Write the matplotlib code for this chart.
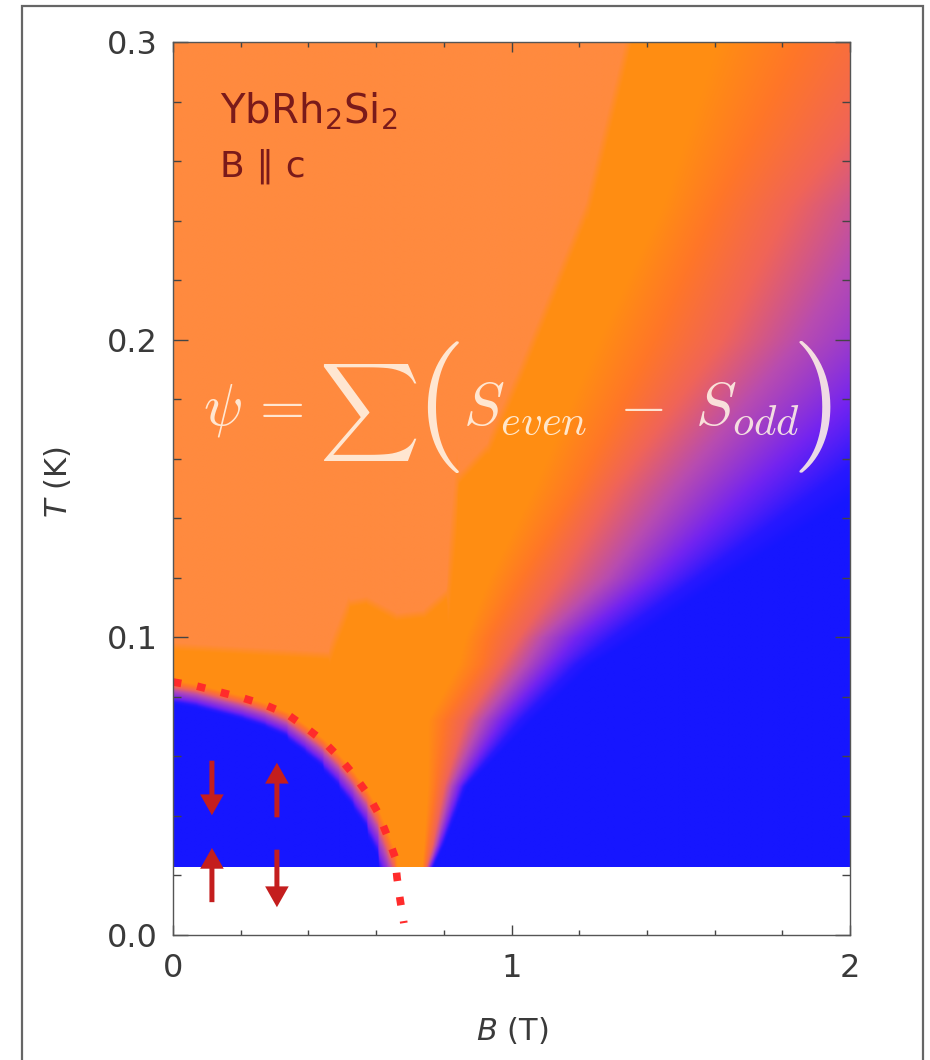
import numpy as np
import matplotlib.pyplot as plt
from matplotlib.colors import LinearSegmentedColormap
from matplotlib.patches import Rectangle

# dotted AF phase line (B in T, T in K)
neel_B = [0, 0.071, 0.139, 0.207, 0.272, 0.337, 0.390, 0.443, 0.490, 0.532,
          0.573, 0.606, 0.632, 0.656, 0.662, 0.671, 0.682]
neel_T = [0.085, 0.0836, 0.0816, 0.0796, 0.0773, 0.0742, 0.0699, 0.0652, 0.0598,
          0.0541, 0.0477, 0.0410, 0.0336, 0.0262, 0.0191, 0.0118, 0.0040]

# edge of the pale orange region (upper left)
edge_B = [0, 0.30, 0.46, 0.48, 0.52, 0.57, 0.66, 0.74, 0.81, 0.84, 0.93,
          1.025, 1.223, 1.344, 1.40]
edge_T = [0.097, 0.095, 0.094, 0.100, 0.1115, 0.1125, 0.107, 0.108, 0.115,
          0.153, 0.164, 0.189, 0.2445, 0.30, 0.32]

# fan crossover: B where psi reaches given level, for each T row
fan_T = [0.023, 0.03, 0.05, 0.072, 0.091, 0.10, 0.12, 0.15, 0.20, 0.245, 0.30]
lev_090 = [0.735, 0.74, 0.75, 0.75, 0.84, 0.86, 0.93, 1.06, 1.25, 1.44, 1.60]
lev_078 = [0.742, 0.75, 0.775, 0.80, 0.91, 0.93, 1.03, 1.19, 1.42, 1.60, 1.85]
lev_065 = [0.748, 0.765, 0.80, 0.86, 0.97, 1.02, 1.14, 1.30, 1.62, 1.82, 2.20]
lev_050 = [0.754, 0.775, 0.82, 0.91, 1.04, 1.09, 1.28, 1.48, 1.85, 2.10, 2.60]
lev_025 = [0.76, 0.785, 0.845, 0.97, 1.12, 1.19, 1.42, 1.70, 2.20, 2.60, 3.10]
lev_000 = [0.77, 0.80, 0.87, 1.06, 1.24, 1.37, 1.63, 2.05, 2.70, 3.20, 3.80]
levels = [0.9, 0.78, 0.65, 0.5, 0.25, 0.0]

# spin arrows: (B, T tail, T tip)
arr_B = [0.115, 0.115, 0.307, 0.307]
arr_tail = [0.0595, 0.0101, 0.0386, 0.0296]
arr_tip = [0.0393, 0.0302, 0.0588, 0.0084]

T_min = 0.023  # lowest measured T

cmap = LinearSegmentedColormap.from_list('psi', [
    (0.0, '#1616FF'), (0.1, '#2818FF'), (0.25, '#7424F0'), (0.5, '#B84CB0'),
    (0.65, '#F06458'), (0.78, '#FF7628'), (0.9, '#FF8E12'), (1.0, '#FF8A3F')])

Bg = np.linspace(0, 2, 800)
Tg = np.linspace(T_min, 0.3, 900)
BB, TT = np.meshgrid(Bg, Tg)
sx, sy = 338.5, 2977.0  # pixel per unit

lev_rows = [lev_090, lev_078, lev_065, lev_050, lev_025, lev_000]
psi = np.empty(BB.shape)
for i, t in enumerate(Tg):
    xp = [np.interp(t, fan_T, r) for r in lev_rows]
    psi[i] = np.interp(Bg, xp, levels)

def dist(eB, eT):
    te = np.interp(Bg, eB, eT)
    m = np.gradient(te, Bg) * sy / sx
    return (TT - te) * sy / np.sqrt(1 + m**2)

d_dome = dist(neel_B, neel_T)
s = np.clip((d_dome + 22) / 24, 0, 1)
psi = psi * s
d_pale = dist(edge_B, edge_T)
p = np.clip(d_pale / 8 + 0.5, 0, 1)
psi = psi + (1 - psi) * p

fig = plt.figure(figsize=(9.3, 10.6), dpi=100)
ax = fig.add_axes([173/930, 1 - 935/1060, 677/930, 893/1060])
ax.imshow(psi, extent=[0, 2, T_min, 0.3], origin='lower', aspect='auto',
          cmap=cmap, vmin=0, vmax=1, interpolation='bilinear')
ax.set_xlim(0, 2)
ax.set_ylim(0, 0.3)

ax.plot(neel_B, neel_T, color='#FF2B2B', lw=5.5, linestyle=(0, (1.1, 2.1)))

for b, t0, t1 in zip(arr_B, arr_tail, arr_tip):
    ax.annotate('', xy=(b, t1), xytext=(b, t0),
                arrowprops=dict(arrowstyle='simple,head_width=0.85,head_length=0.75,tail_width=0.18',
                                mutation_scale=20, color='#C41E1E', lw=0))

tc = '#3a3a3a'
ax.set_xticks([0, 1, 2])
ax.set_xticklabels(['0', '1', '2'])
ax.set_yticks([0, 0.1, 0.2, 0.3])
ax.set_yticklabels(['0.0', '0.1', '0.2', '0.3'])
ax.set_xticks(np.arange(0, 2.01, 0.2), minor=True)
ax.set_yticks(np.arange(0, 0.301, 0.02), minor=True)
ax.tick_params(which='both', direction='in', top=True, right=True, colors='#444',
               labelcolor=tc, labelsize=23, width=1)
ax.tick_params(axis='x', which='major', length=7, pad=13)
ax.tick_params(axis='x', which='minor', length=3.5)
ax.tick_params(axis='y', which='major', length=10.5, pad=11)
ax.tick_params(axis='y', which='minor', length=5.5)
for sp in ax.spines.values():
    sp.set_color('#555')
    sp.set_linewidth(1)

ax.set_xlabel('$B$ (T)', fontsize=22, color=tc)
ax.set_ylabel('$T$ (K)', fontsize=22, color=tc)
ax.xaxis.set_label_coords((512 - 173) / 677, (935 - 1030) / 893)
ax.yaxis.set_label_coords((57 - 173) / 677, (935 - 482) / 893)
ax.xaxis.label.set_va('center')
ax.yaxis.label.set_va('center')

tx = '#7A1A1A'
ax.text(0.069, 0.909, r'YbRh$_2$Si$_2$', transform=ax.transAxes, fontsize=29,
        color=tx, va='baseline')
ax.text(0.069, 0.849, 'B \u2225 c', transform=ax.transAxes, fontsize=26,
        color=tx, va='baseline')

fc = '#FFF4E6'
kw = dict(transform=ax.transAxes, color=fc, alpha=0.88, math_fontfamily='cm')
ax.text(0.044, 0.572, r'$\psi\,=$', fontsize=42, va='baseline', ha='left', **kw)
ax.text(0.288, 0.585, r'$\sum$', fontsize=50, va='center', ha='center', **kw)
ax.text(0.39, 0.591, r'$($', fontsize=95, va='center', ha='center', **kw)
ax.text(0.428, 0.572, r'$S_{even}\ -\ S_{odd}$', fontsize=44, va='baseline', ha='left', **kw)
ax.text(0.942, 0.591, r'$)$', fontsize=95, va='center', ha='center', **kw)

fig.add_artist(Rectangle((22/930, -0.02), (923 - 22)/930, 1.02 - 6/1060,
                         transform=fig.transFigure, fill=False,
                         edgecolor='#666', lw=1.6, clip_on=False))

fig.savefig('out.png', dpi=100)
